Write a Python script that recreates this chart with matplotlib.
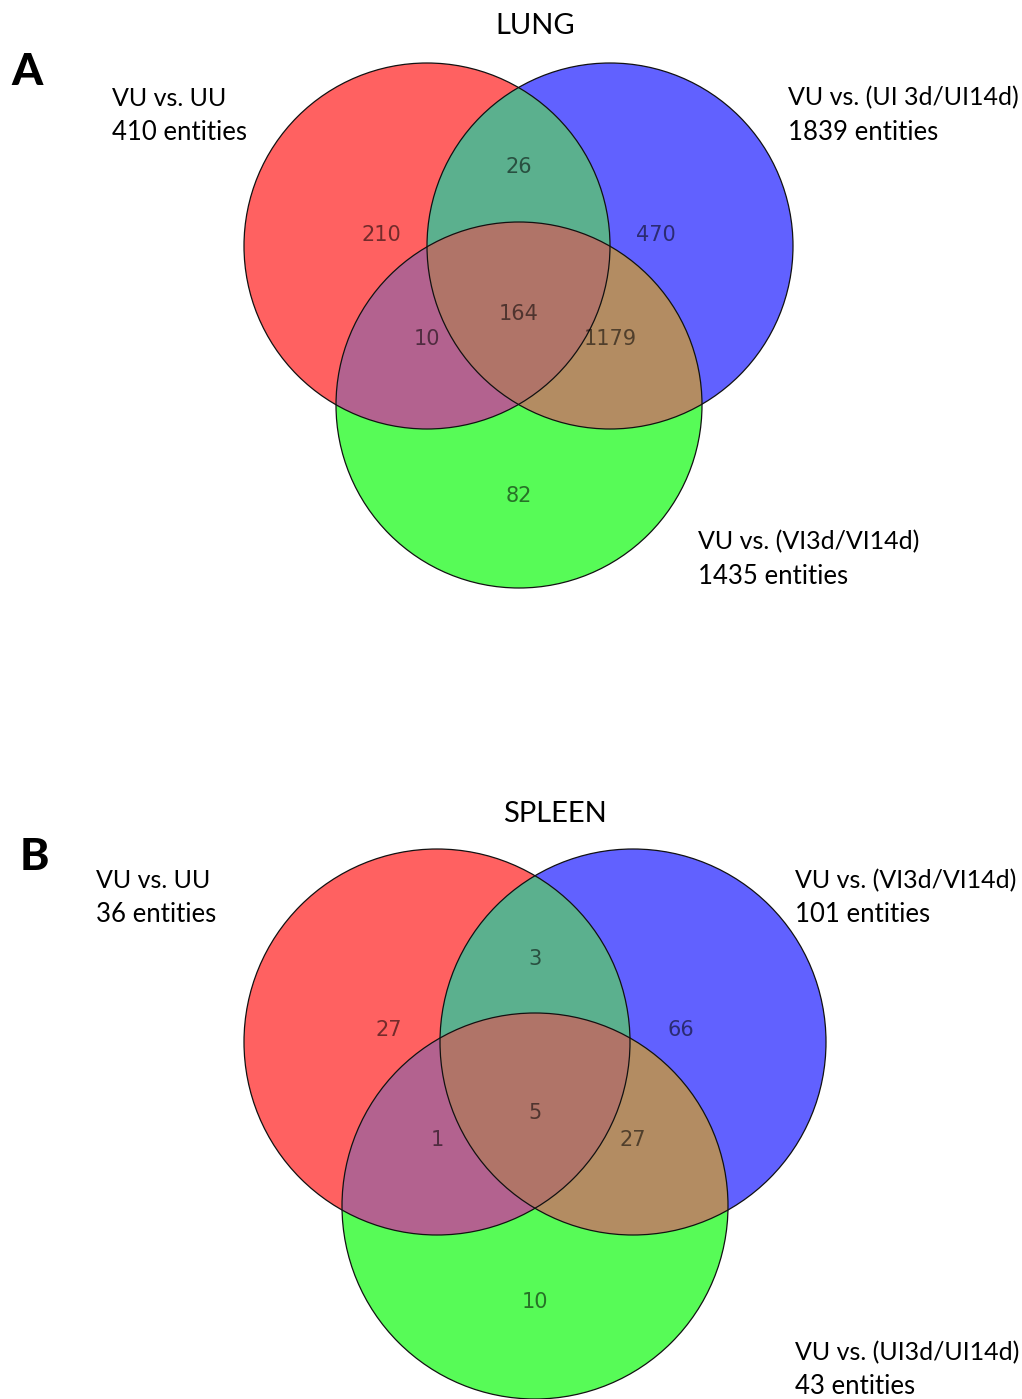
import numpy as np
import matplotlib
matplotlib.use("Agg")
import matplotlib.pyplot as plt
from matplotlib.patches import Circle, Polygon

# region counts, order: A only, B only, A&B, C only, A&C, B&C, A&B&C
lung_counts = [210, 470, 26, 82, 10, 1179, 164]
spleen_counts = [27, 66, 3, 10, 1, 27, 5]

lung_sets = ["VU vs. UU", "VU vs. (UI 3d/UI14d)", "VU vs. (VI3d/VI14d)"]
lung_totals = [410, 1839, 1435]
spleen_sets = ["VU vs. UU", "VU vs. (VI3d/VI14d)", "VU vs. (UI3d/UI14d)"]
spleen_totals = [36, 101, 43]

# fill colours
c_a, c_b, c_c = "#ff6161", "#6161ff", "#57fb57"
c_ab, c_ac, c_bc, c_abc = "#5bb08e", "#b3628f", "#b38c62", "#b07468"

LABEL_FONT = ["Lato", "DejaVu Sans"]

W, H = 1022, 1399
fig = plt.figure(figsize=(W / 100, H / 100), dpi=100)
ax = fig.add_axes([0, 0, 1, 1])
ax.set_xlim(0, W)
ax.set_ylim(H, 0)
ax.set_aspect("equal")
ax.axis("off")


def inter_poly(circles, n=1440):
    pts = []
    t = np.linspace(0, 2 * np.pi, n, endpoint=False)
    for i, (cx, cy, r) in enumerate(circles):
        p = np.column_stack([cx + r * np.cos(t), cy + r * np.sin(t)])
        keep = np.ones(n, bool)
        for j, (ox, oy, orr) in enumerate(circles):
            if j != i:
                keep &= np.hypot(p[:, 0] - ox, p[:, 1] - oy) <= orr + 1e-6
        pts.append(p[keep])
    pts = np.vstack(pts)
    c = pts.mean(axis=0)
    ang = np.arctan2(pts[:, 1] - c[1], pts[:, 0] - c[0])
    return pts[np.argsort(ang)]


def venn(ca, cb, cc, r, counts):
    A = (ca[0], ca[1], r)
    B = (cb[0], cb[1], r)
    C = (cc[0], cc[1], r)
    for (x, y, _), col in zip([A, B, C], [c_a, c_b, c_c]):
        ax.add_patch(Circle((x, y), r, facecolor=col, edgecolor="none"))
    for pair, col in [((A, B), c_ab), ((A, C), c_ac), ((B, C), c_bc), ((A, B, C), c_abc)]:
        ax.add_patch(Polygon(inter_poly(pair), closed=True, facecolor=col, edgecolor="none"))
    for x, y, _ in [A, B, C]:
        ax.add_patch(Circle((x, y), r, facecolor="none", edgecolor="#111111", lw=0.9))

    mx = (ca[0] + cb[0]) / 2
    my = ca[1]
    pos = [
        (ca[0] - 0.25 * r, my - 0.06 * r),
        (cb[0] + 0.25 * r, my - 0.06 * r),
        (mx, my - 0.43 * r),
        (cc[0], cc[1] + 0.5 * r),
        (ca[0], my + 0.51 * r),
        (cb[0], my + 0.51 * r),
        (mx, my + 0.37 * r),
    ]
    for (x, y), v in zip(pos, counts):
        ax.text(x, y, str(v), ha="center", va="center", fontsize=15,
                color="black", alpha=0.55, family="DejaVu Sans")


def set_label(x, y, name, total):
    ax.text(x, y, name, ha="left", va="center", fontsize=18, family=LABEL_FONT)
    ax.text(x, y + 34, f"{total} entities", ha="left", va="center", fontsize=18.5,
            family=LABEL_FONT)


# panel A: lung
venn((427, 246), (610, 246), (519, 405), 183, lung_counts)
ax.text(535, 26, "LUNG", ha="center", va="center", fontsize=21, family=LABEL_FONT)
ax.text(27, 72, "A", ha="center", va="center", fontsize=32, fontweight="black",
        family=LABEL_FONT)
set_label(112, 98, lung_sets[0], lung_totals[0])
set_label(788, 98, lung_sets[1], lung_totals[1])
set_label(698, 542, lung_sets[2], lung_totals[2])

# panel B: spleen
venn((437, 1042), (633, 1042), (535, 1206), 193, spleen_counts)
ax.text(555, 814, "SPLEEN", ha="center", va="center", fontsize=21, family=LABEL_FONT)
ax.text(34, 857, "B", ha="center", va="center", fontsize=32, fontweight="black",
        family=LABEL_FONT)
set_label(96, 881, spleen_sets[0], spleen_totals[0])
set_label(795, 881, spleen_sets[1], spleen_totals[1])
set_label(795, 1353, spleen_sets[2], spleen_totals[2])

fig.savefig("out.png", dpi=100)
